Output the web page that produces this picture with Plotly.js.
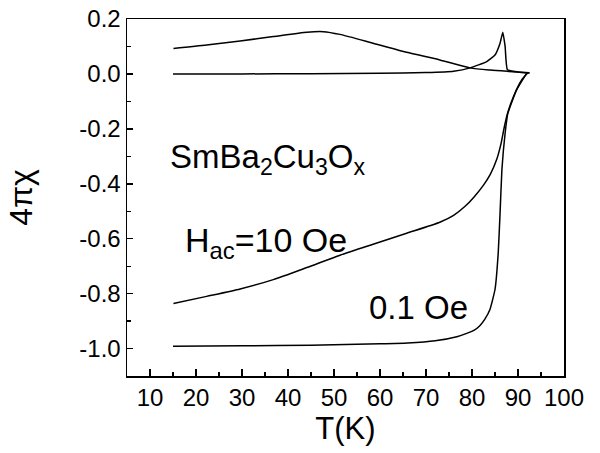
<!DOCTYPE html>
<html>
<head>
<meta charset="utf-8">
<script src="https://cdn.plot.ly/plotly-3.0.1.min.js"></script>
<style>
  html, body { margin: 0; padding: 0; background: #fff; }
  #chart { width: 600px; height: 453px; }
</style>
</head>
<body>
<div id="chart"></div>
<script>
// chi'' at Hac = 10 Oe (broad loss peak)
const tLoss10 = [15.1, 22.3, 29.6, 36.8, 44.1, 47.7, 51.3, 58.5, 65.8, 73.0, 79.6, 84.0, 88.0, 92.5];
const vLoss10 = [0.093, 0.105, 0.120, 0.136, 0.152, 0.154, 0.144, 0.112, 0.079, 0.051, 0.022, 0.014, 0.009, 0.004];

// chi'' at Hac = 0.1 Oe (sharp loss peak)
const tLoss01 = [15, 30, 45, 60, 70, 76, 79.6, 83.2, 85.0, 86.1, 86.7, 87.2, 87.7, 90.0, 92.5];
const vLoss01 = [0.000, 0.000, 0.001, 0.002, 0.005, 0.010, 0.022, 0.045, 0.069, 0.112, 0.152, 0.100, 0.015, 0.007, 0.003];

// chi' at Hac = 10 Oe
const tReal10 = [15.1, 22.3, 29.6, 36.8, 44.1, 51.3, 58.5, 65.8, 73.0, 76.0, 78.5, 80.5, 82.5, 84.0, 85.4, 86.3, 87.0, 87.7, 89.0, 90.8, 92.2];
const vReal10 = [-0.836, -0.810, -0.783, -0.749, -0.705, -0.660, -0.620, -0.580, -0.540, -0.515, -0.482, -0.447, -0.405, -0.365, -0.310, -0.255, -0.195, -0.145, -0.083, -0.022, 0.005];

// chi' at Hac = 0.1 Oe
const tReal01 = [15, 30, 45, 60, 66, 72, 76.7, 79.0, 80.5, 81.7, 82.8, 83.9, 85.0, 85.7, 86.1, 86.5, 87.2, 87.8, 89.7, 91.9];
const vReal01 = [-0.992, -0.990, -0.988, -0.983, -0.980, -0.972, -0.957, -0.944, -0.933, -0.917, -0.893, -0.858, -0.785, -0.652, -0.507, -0.349, -0.216, -0.143, -0.058, 0.003];

// axis ticks
const xTickVals = [10, 20, 30, 40, 50, 60, 70, 80, 90, 100];
const xTickText = ["10", "20", "30", "40", "50", "60", "70", "80", "90", "100"];
const yTickVals = [0.2, 0.0, -0.2, -0.4, -0.6, -0.8, -1.0];
const yTickText = ["0.2", "0.0", "-0.2", "-0.4", "-0.6", "-0.8", "-1.0"];

// labels
const sampleLabel = "SmBa<sub>2</sub>Cu<sub>3</sub>O<sub>x</sub>";
const fieldLabel = "H<sub>ac</sub>=10 Oe";
const lowFieldLabel = "0.1 Oe";

const FONT = "Liberation Sans, Arial, Helvetica, sans-serif";
const lineStyle = { color: "#000", width: 1.5, shape: "spline", smoothing: 0.6 };

const traces = [
  { x: tLoss10, y: vLoss10, mode: "lines", line: lineStyle, name: "chi'' 10 Oe" },
  { x: tLoss01, y: vLoss01, mode: "lines", line: Object.assign({}, lineStyle, { smoothing: 0.4 }), name: "chi'' 0.1 Oe" },
  { x: tReal10, y: vReal10, mode: "lines", line: lineStyle, name: "chi' 10 Oe" },
  { x: tReal01, y: vReal01, mode: "lines", line: Object.assign({}, lineStyle, { smoothing: 0.4 }), name: "chi' 0.1 Oe" }
];

const layout = {
  width: 600,
  height: 453,
  margin: { l: 127, r: 36, t: 19, b: 77 },
  paper_bgcolor: "#fff",
  plot_bgcolor: "#fff",
  showlegend: false,
  font: { family: FONT, color: "#000" },
  xaxis: {
    range: [5, 100],
    tickvals: xTickVals,
    ticktext: xTickText,
    ticks: "inside",
    ticklen: 7,
    tickwidth: 1.5,
    tickcolor: "#000",
    minor: { dtick: 5, tick0: 5, ticks: "inside", ticklen: 4, tickwidth: 1.2, tickcolor: "#000" },
    showline: true,
    linecolor: "#000",
    linewidth: 1.5,
    mirror: true,
    showgrid: false,
    zeroline: false,
    tickfont: { size: 24, family: FONT },
    title: { text: "T(K)", font: { size: 31, family: FONT }, standoff: 7 }
  },
  yaxis: {
    range: [-1.1, 0.2],
    tickvals: yTickVals,
    ticktext: yTickText,
    ticks: "inside",
    ticklen: 6,
    tickwidth: 1.5,
    tickcolor: "#000",
    minor: { dtick: 0.1, tick0: 0.1, ticks: "inside", ticklen: 4, tickwidth: 1.2, tickcolor: "#000" },
    showline: true,
    linecolor: "#000",
    linewidth: 1.5,
    mirror: true,
    showgrid: false,
    zeroline: false,
    tickfont: { size: 24, family: FONT },
    title: { text: "4πχ", font: { size: 32, family: FONT }, standoff: 37 }
  },
  annotations: [
    { x: 13.9, y: -0.31, xref: "x", yref: "y", text: sampleLabel, showarrow: false,
      xanchor: "left", yanchor: "middle", font: { size: 33, family: FONT } },
    { x: 17.2, y: -0.615, xref: "x", yref: "y", text: fieldLabel, showarrow: false,
      xanchor: "left", yanchor: "middle", font: { size: 34, family: FONT } },
    { x: 57.1, y: -0.852, xref: "x", yref: "y", text: lowFieldLabel, showarrow: false,
      xanchor: "left", yanchor: "middle", font: { size: 33, family: FONT } }
  ]
};

Plotly.newPlot("chart", traces, layout, { displayModeBar: false, staticPlot: true });
</script>
</body>
</html>
